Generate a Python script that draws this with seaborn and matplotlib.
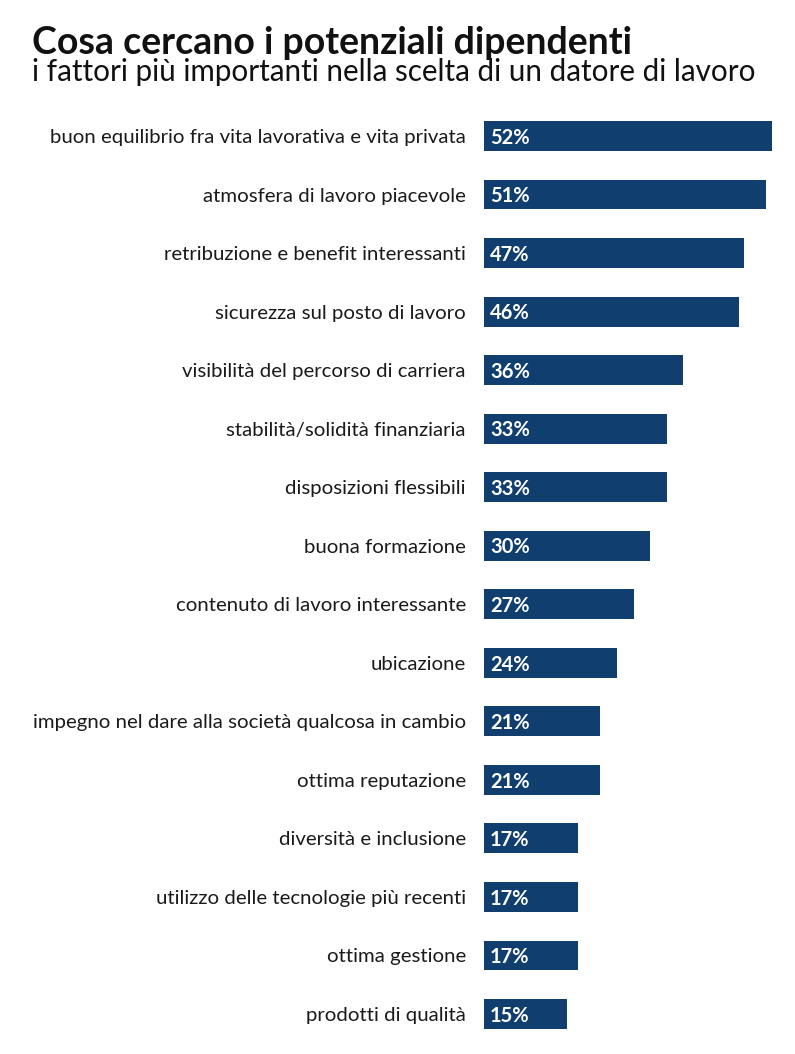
import matplotlib
matplotlib.use("Agg")
import matplotlib.pyplot as plt
import seaborn as sns
import pandas as pd

categories = [
    "buon equilibrio fra vita lavorativa e vita privata",
    "atmosfera di lavoro piacevole",
    "retribuzione e benefit interessanti",
    "sicurezza sul posto di lavoro",
    "visibilità del percorso di carriera",
    "stabilità/solidità finanziaria",
    "disposizioni flessibili",
    "buona formazione",
    "contenuto di lavoro interessante",
    "ubicazione",
    "impegno nel dare alla società qualcosa in cambio",
    "ottima reputazione",
    "diversità e inclusione",
    "utilizzo delle tecnologie più recenti",
    "ottima gestione",
    "prodotti di qualità",
]
values = [52, 51, 47, 46, 36, 33, 33, 30, 27, 24, 21, 21, 17, 17, 17, 15]

title = "Cosa cercano i potenziali dipendenti"
subtitle = "i fattori più importanti nella scelta di un datore di lavoro"

df = pd.DataFrame({"cat": categories, "val": values})

sns.set_theme(style="white")
plt.rcParams["font.family"] = ["Lato", "DejaVu Sans"]

W, H = 795, 1054
fig = plt.figure(figsize=(W / 100, H / 100), dpi=100)
left = 484 / W
right = 772 / W
top = 1 - 106.75 / H
bottom = 1 - 1043.25 / H
ax = fig.add_axes([left, bottom, right - left, top - bottom])

sns.barplot(data=df, x="val", y="cat", color="#0f3e6f", width=0.51,
            saturation=1, linewidth=0, ax=ax, orient="h")
ax.set_xlim(0, 52)
ax.set_ylim(len(categories) - 0.5, -0.5)
ax.set_xlabel("")
ax.set_ylabel("")
ax.set_xticks([])
ax.tick_params(axis="y", length=0, pad=13, labelsize=14.7, labelcolor="#1a1a1a")
for s in ax.spines.values():
    s.set_visible(False)

for i, v in enumerate(values):
    ax.text(1.1, i + 0.03, f"{v}%", color="white", fontsize=14.5, fontweight="bold",
            va="center", ha="left")

fig.text(32 / W, 1 - 54 / H, title, fontsize=27, fontweight="bold",
         color="#111111", va="baseline", ha="left")
fig.text(32 / W, 1 - 81 / H, subtitle, fontsize=21.3, fontweight="normal",
         color="#111111", va="baseline", ha="left")

fig.savefig("out.png", dpi=100)
